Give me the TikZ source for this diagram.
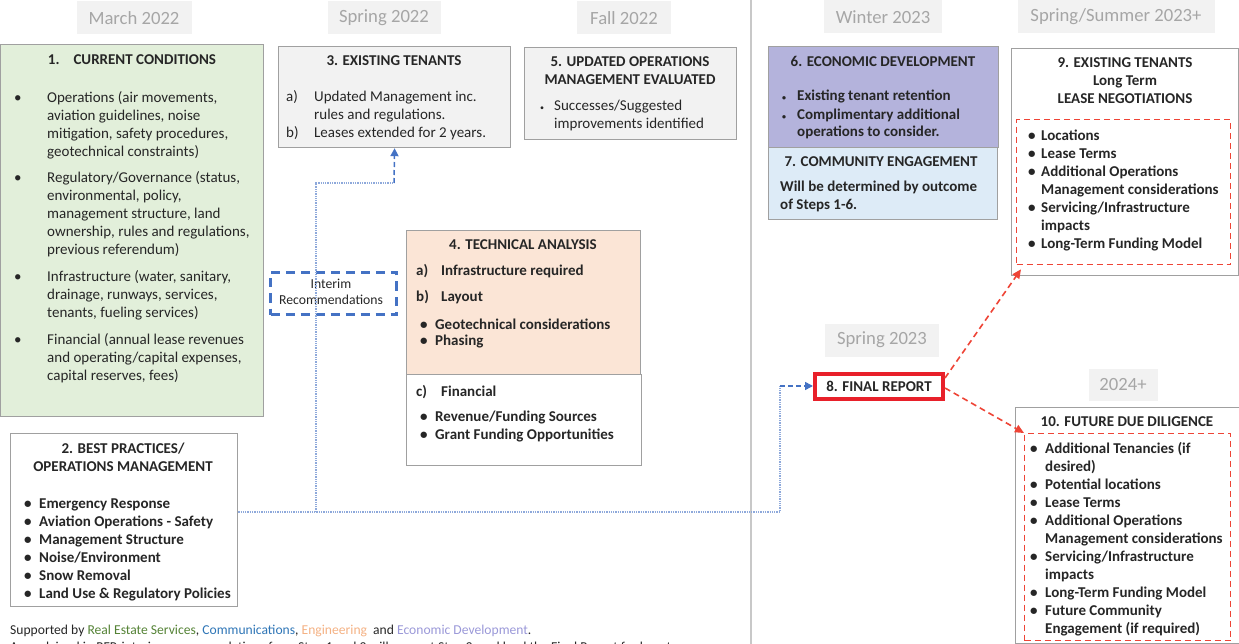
\documentclass[tikz,border=0pt]{standalone}
\usepackage{fontspec}
\setmainfont{Carlito}
\usetikzlibrary{arrows.meta}

\definecolor{txt}{HTML}{262626}
\definecolor{boxline}{HTML}{A0A0A0}
\definecolor{headfill}{HTML}{F2F2F2}
\definecolor{headtext}{HTML}{A6A6A6}
\definecolor{greenbg}{HTML}{E2EFDA}
\definecolor{greybg}{HTML}{F2F2F2}
\definecolor{peachbg}{HTML}{FBE5D6}
\definecolor{purplebg}{HTML}{B4B3DC}
\definecolor{bluebg}{HTML}{DDEBF7}
\definecolor{linkblue}{HTML}{4472C4}
\definecolor{dotblue}{HTML}{8EA9DB}
\definecolor{repred}{HTML}{E8202A}
\definecolor{dashred}{HTML}{EE4436}
\definecolor{divline}{HTML}{C8C8C8}
\definecolor{resgreen}{HTML}{548235}
\definecolor{comblue}{HTML}{2E75B6}
\definecolor{engorange}{HTML}{F4B183}
\definecolor{ecopurple}{HTML}{9A98D8}

\newcommand{\bodyfont}{\fontsize{15}{18}\selectfont}
\newcommand{\headfont}{\fontsize{18.67}{22}\selectfont}
\newcommand{\notefont}{\fontsize{13.7}{16}\selectfont}
\newcommand{\footfont}{\fontsize{13.6}{16}\selectfont}

\begin{document}
\begin{tikzpicture}[x=1pt,y=-1pt]
\tikzstyle{box}=[draw=boxline, line width=1.2pt, rectangle, inner sep=0pt, anchor=north west]
\tikzstyle{period}=[fill=headfill, text=headtext, font=\headfont, inner sep=0pt, minimum height=33pt]
\tikzstyle{title}=[font=\bodyfont\bfseries, text=txt, align=center, inner sep=0pt]
\tikzstyle{body}=[font=\bodyfont, text=txt, anchor=base west, inner sep=0pt]
\tikzstyle{boldbody}=[body, font=\bodyfont\bfseries]
\tikzstyle{redbox}=[draw=dashred, line width=1.3pt, dash pattern=on 6pt off 4pt, rectangle, inner sep=0pt, anchor=north west]
\tikzstyle{dotlink}=[dotblue, line width=1.3pt, densely dotted]
\tikzstyle{dashlink}=[linkblue, line width=1.5pt, dash pattern=on 5pt off 3pt, -{Triangle[length=8pt,width=8pt]}]
\tikzstyle{redlink}=[dashred, line width=1.6pt, dash pattern=on 6pt off 4pt, -{Triangle[length=9pt,width=8pt]}]

\useasboundingbox (0,0) rectangle (1239,644);
\clip (0,0) rectangle (1239,644);

% time periods
\node[period, minimum width=115pt] (hmar) at (134,18) {March 2022};
\node[period, minimum width=113pt] (hspr) at (384,18) {Spring 2022};
\node[period, minimum width=94pt] (hfal) at (624,18) {Fall 2022};
\node[period, minimum width=118pt] (hwin) at (883,17) {Winter 2023};
\node[period, minimum width=197pt] (hsum) at (1116,17) {Spring/Summer 2023+};
\node[period, minimum width=114pt] (hspr23) at (882,340) {Spring 2023};
\node[period, minimum width=69pt, minimum height=32pt] (hfut) at (1123,385) {2024+};

\draw[divline, line width=2pt] (751,0) -- (751,644);

% 1. current conditions
\node[box, fill=greenbg, minimum width=263pt, minimum height=372pt] (cur) at (0,44) {};
\node[title] (curtitle) at (132,60) {1.\hspace{14pt}CURRENT CONDITIONS};
\node[body] (curtxt) at (14,103) {\begin{tabular}[t]{@{}p{33pt}@{}l@{}}
\textbullet & Operations (air movements,\\
 & aviation guidelines, noise\\
 & mitigation, safety procedures,\\
 & geotechnical constraints)\\[8pt]
\textbullet & Regulatory/Governance (status,\\
 & environmental, policy,\\
 & management structure, land\\
 & ownership, rules and regulations,\\
 & previous referendum)\\[9pt]
\textbullet & Infrastructure (water, sanitary,\\
 & drainage, runways, services,\\
 & tenants, fueling services)\\[9pt]
\textbullet & Financial (annual lease revenues\\
 & and operating/capital expenses,\\
 & capital reserves, fees)
\end{tabular}};

% 2. best practices
\node[box, fill=white, minimum width=227pt, minimum height=173pt] (best) at (10,433) {};
\node[title] (besttitle) at (123,457) {2. BEST PRACTICES/\\OPERATIONS MANAGEMENT};
\node[boldbody] (besttxt) at (24,508) {\begin{tabular}[t]{@{}p{15pt}@{}l@{}}
\textbullet & Emergency Response\\
\textbullet & Aviation Operations - Safety\\
\textbullet & Management Structure\\
\textbullet & Noise/Environment\\
\textbullet & Snow Removal\\
\textbullet & Land Use \& Regulatory Policies
\end{tabular}};

% 3. existing tenants
\node[box, fill=greybg, minimum width=232pt, minimum height=101pt] (ten) at (278,46) {};
\node[title] (tentitle) at (394,61) {3. EXISTING TENANTS};
\node[body] (tentxt) at (286,102) {\begin{tabular}[t]{@{}p{28pt}@{}l@{}}
a) & Updated Management inc.\\
 & rules and regulations.\\
b) & Leases extended for 2 years.
\end{tabular}};

% 5. updated operations
\node[box, fill=greybg, minimum width=212pt, minimum height=92pt] (upd) at (524,47) {};
\node[title] (updtitle) at (630,71) {5. UPDATED OPERATIONS\\MANAGEMENT EVALUATED};
\node[body] (updtxt) at (540,111) {\begin{tabular}[t]{@{}p{14pt}@{}l@{}}
{\footnotesize\textbullet} & Successes/Suggested\\
 & improvements identified
\end{tabular}};

% 4. technical analysis
\node[box, fill=peachbg, minimum width=234pt, minimum height=144pt] (tech) at (406,230) {};
\node[title] (techtitle) at (523,245) {4. TECHNICAL ANALYSIS};
\node[boldbody] (techtxt) at (416,276) {\begin{tabular}[t]{@{}p{25pt}@{}l@{}}
a) & Infrastructure required\\[8pt]
b) & Layout
\end{tabular}};
\node[boldbody] (techlist) at (420,329) {\begin{tabular}[t]{@{}p{15pt}@{}l@{}}
\textbullet & Geotechnical considerations\\[-1pt]
\textbullet & Phasing
\end{tabular}};
\node[box, fill=white, minimum width=235pt, minimum height=91pt] (techfin) at (406,374) {};
\node[boldbody] (fintxt) at (416,396) {\begin{tabular}[t]{@{}p{25pt}@{}l@{}}
c) & Financial
\end{tabular}};
\node[boldbody] (finlist) at (420,421) {\begin{tabular}[t]{@{}p{15pt}@{}l@{}}
\textbullet & Revenue/Funding Sources\\
\textbullet & Grant Funding Opportunities
\end{tabular}};

% interim recommendations
\node[box, draw=linkblue, line width=3pt, dash pattern=on 9pt off 6pt, minimum width=126pt, minimum height=42pt] (interim) at (269,271) {};
\node[font=\notefont, text=txt, align=center, inner sep=0pt] (interimtxt) at (331,292) {Interim\\Recommendations};

% 6. economic development / 7. community engagement
\node[box, fill=purplebg, minimum width=230pt, minimum height=101pt] (eco) at (768,46) {};
\node[title] (ecotitle) at (883,61) {6. ECONOMIC DEVELOPMENT};
\node[boldbody] (ecotxt) at (782,101) {\begin{tabular}[t]{@{}p{15pt}@{}l@{}}
{\footnotesize\textbullet} & Existing tenant retention\\[1pt]
{\footnotesize\textbullet} & Complimentary additional\\[-1pt]
 & operations to consider.
\end{tabular}};
\node[box, fill=bluebg, minimum width=229pt, minimum height=72pt] (com) at (768,147) {};
\node[title] (comtitle) at (881,162) {7. COMMUNITY ENGAGEMENT};
\node[boldbody] (comtxt) at (780,192) {\begin{tabular}[t]{@{}l@{}}
Will be determined by outcome\\
of Steps 1-6.
\end{tabular}};

% 8. final report
\node[draw=repred, line width=4pt, fill=white, minimum width=128pt, minimum height=25pt, inner sep=0pt, font=\bodyfont\bfseries, text=txt] (final) at (879,386) {8. FINAL REPORT};

% 9. lease negotiations
\node[box, fill=white, minimum width=227pt, minimum height=227pt] (lease) at (1011,48) {};
\node[title] (leasetitle) at (1125,81) {9. EXISTING TENANTS\\Long Term\\LEASE NEGOTIATIONS};
\node[redbox, minimum width=214pt, minimum height=145pt] (leasein) at (1016,119) {};
\node[boldbody] (leasetxt) at (1028,141) {\begin{tabular}[t]{@{}p{13pt}@{}l@{}}
\textbullet & Locations\\
\textbullet & Lease Terms\\
\textbullet & Additional Operations\\
 & Management considerations\\
\textbullet & Servicing/Infrastructure\\
 & impacts\\
\textbullet & Long-Term Funding Model
\end{tabular}};

% 10. future due diligence
\node[box, fill=white, minimum width=224pt, minimum height=236pt] (due) at (1015,407) {};
\node[title] (duetitle) at (1127,422) {10. FUTURE DUE DILIGENCE};
\node[redbox, minimum width=206pt, minimum height=207pt] (duein) at (1024,433) {};
\node[boldbody] (duetxt) at (1030,453) {\begin{tabular}[t]{@{}p{15pt}@{}l@{}}
\textbullet & Additional Tenancies (if\\
 & desired)\\
\textbullet & Potential locations\\
\textbullet & Lease Terms\\
\textbullet & Additional Operations\\
 & Management considerations\\
\textbullet & Servicing/Infrastructure\\
 & impacts\\
\textbullet & Long-Term Funding Model\\
\textbullet & Future Community\\
 & Engagement (if required)
\end{tabular}};

% connectors
\coordinate (j1) at (780,512);
\coordinate (j2) at (780,386);
\coordinate (j3) at (316,512);
\coordinate (j4) at (316,183);
\coordinate (j5) at (394,183);
\draw[dotlink] (best.east |- j1) -- (j1) -- (j2);
\draw[dashlink] (j2) -- (final.west);
\draw[dotlink] (j3) -- (j4) -- (j5);
\draw[dashlink] (j5) -- (ten.south);
\draw[redlink] ([yshift=8pt]final.east) -- ([xshift=5pt,yshift=-4pt]leasein.south west);
\draw[redlink] ([yshift=-2pt]final.east) -- (duein.north west);

% footer
\node[font=\footfont, text=txt, anchor=base west, inner sep=0pt] (support) at (10,634) {Supported by \textcolor{resgreen}{Real Estate Services}, \textcolor{comblue}{Communications}, \textcolor{engorange}{Engineering}\ \ and \textcolor{ecopurple}{Economic Development}.};
\node[font=\footfont, text=txt, anchor=base west, inner sep=0pt] (explain) at (10,651) {As explained in RFP, interim recommendations from Step 1 and 2 will support Step 3, and lead the Final Report for long term};
\end{tikzpicture}
\end{document}
